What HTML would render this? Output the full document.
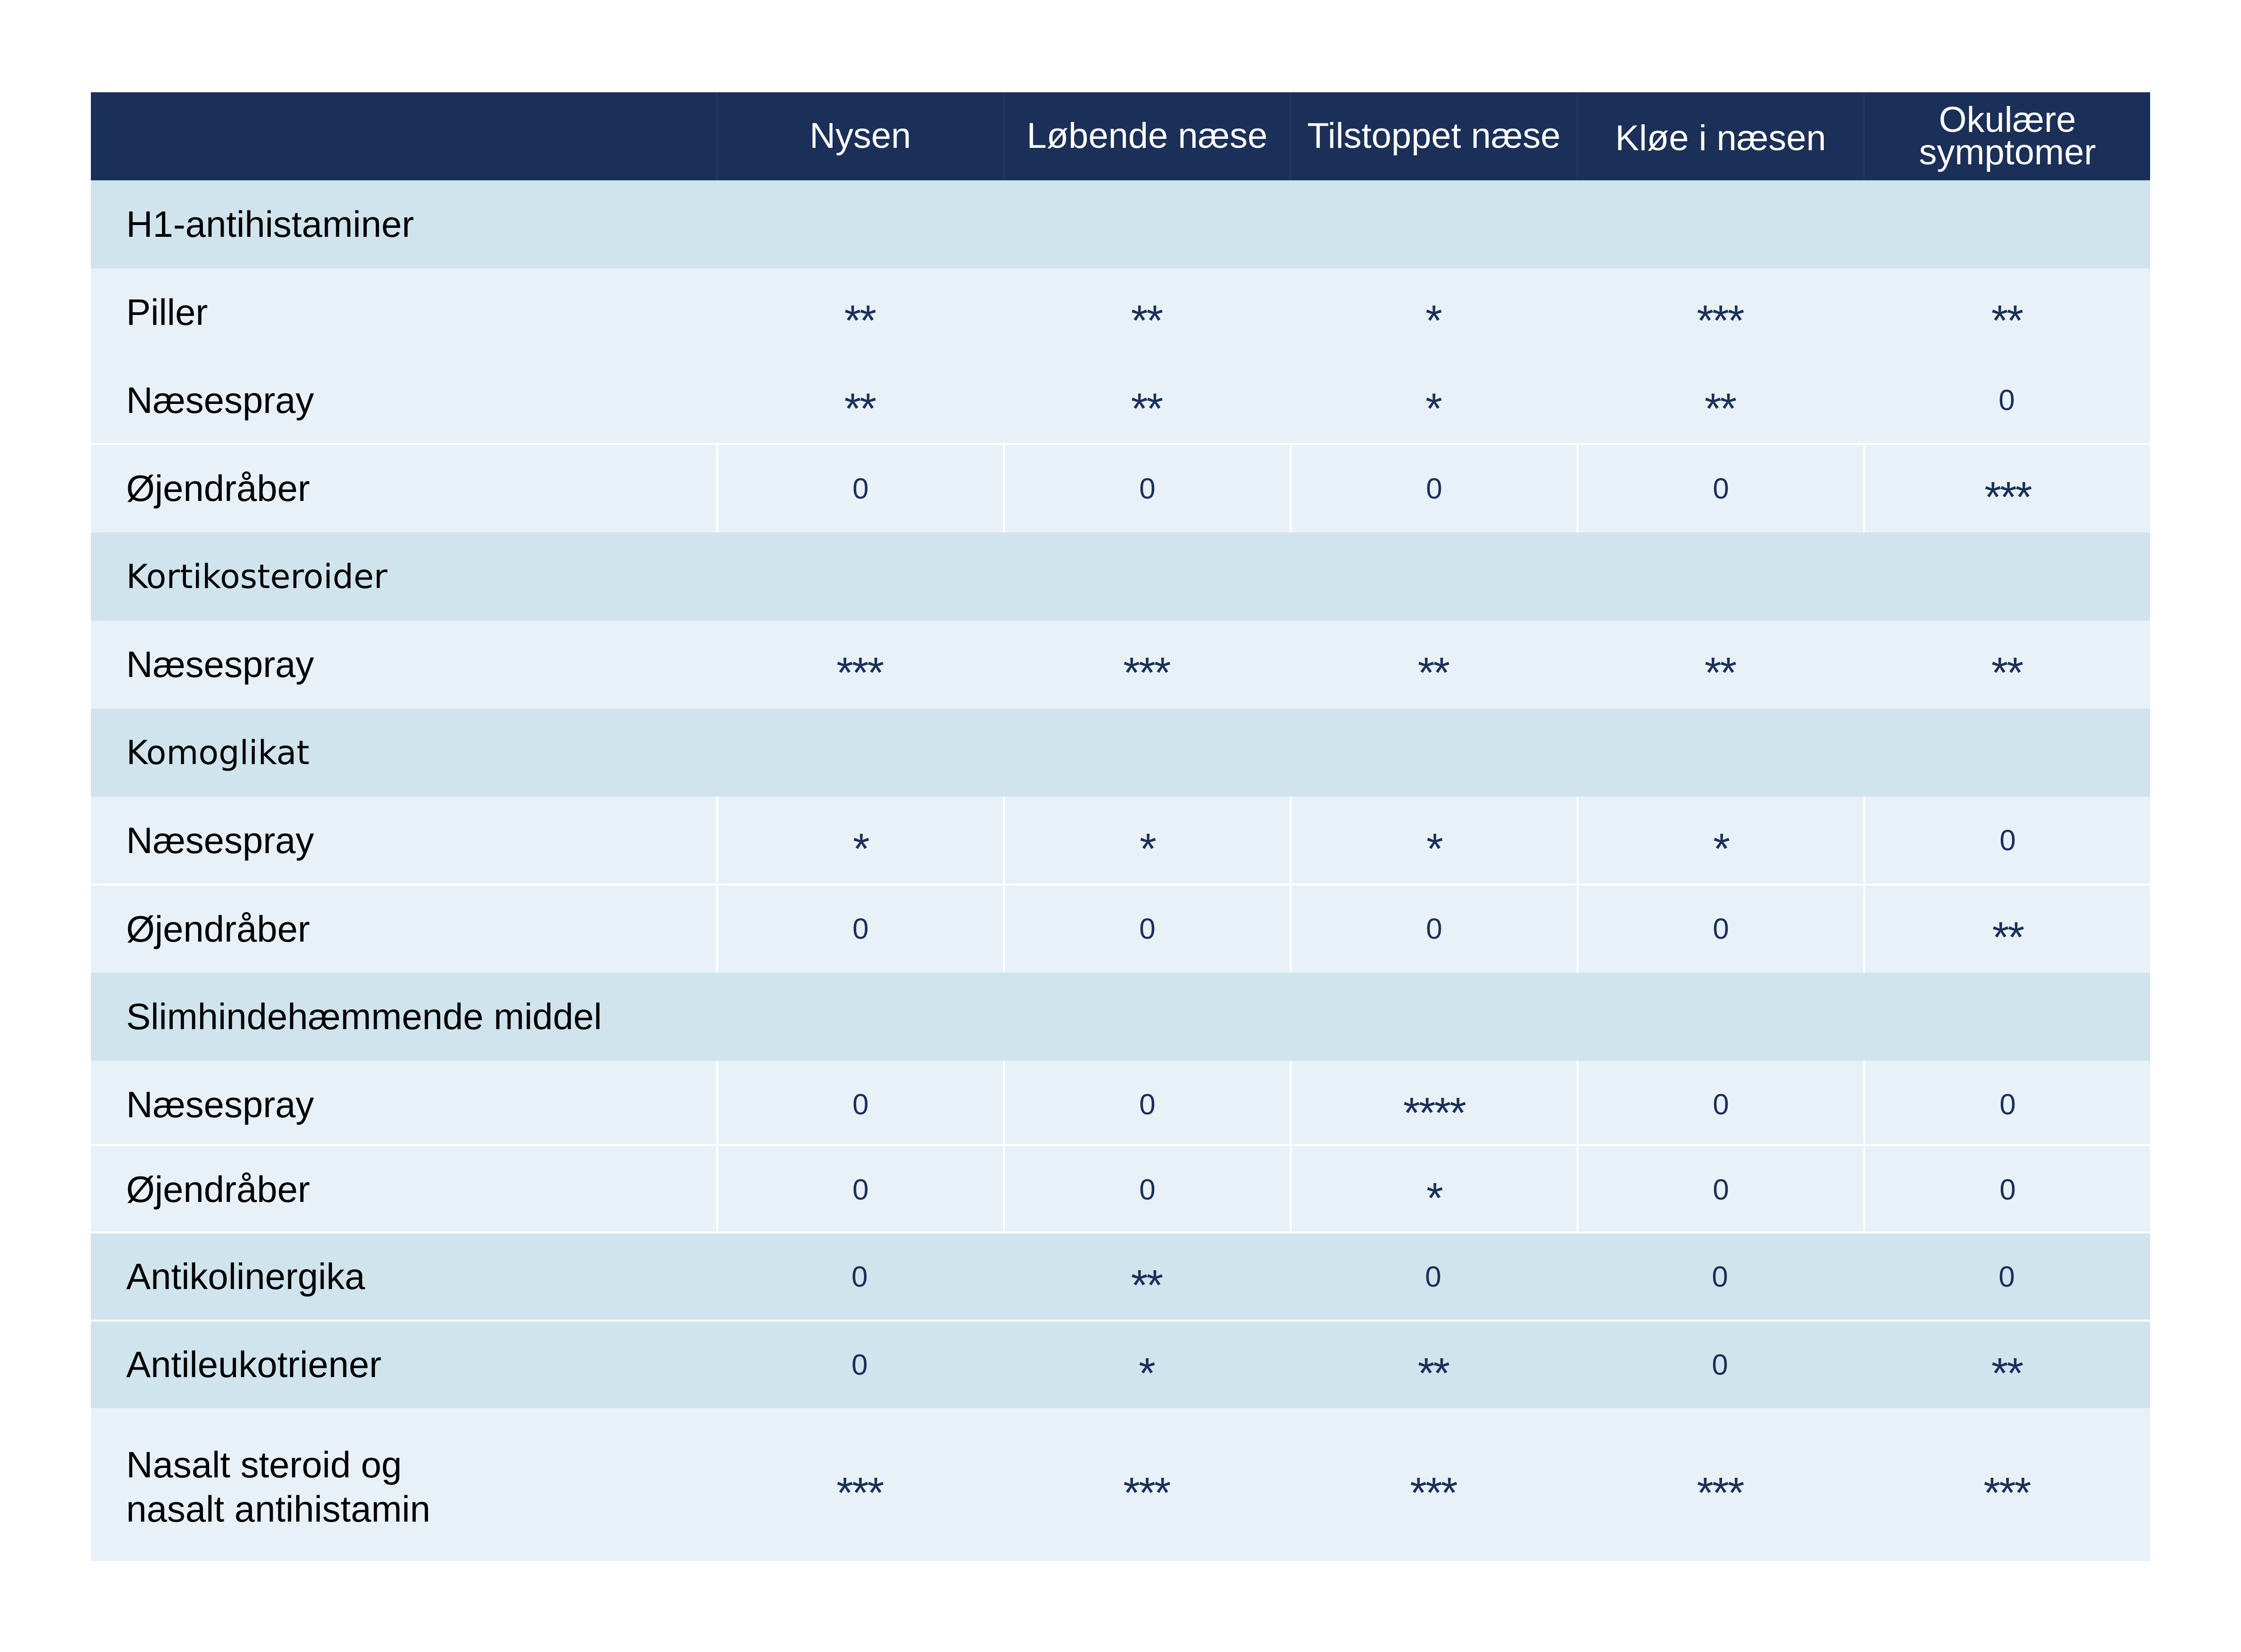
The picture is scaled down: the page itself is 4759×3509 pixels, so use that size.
<!DOCTYPE html>
<html><head><meta charset="utf-8"><style>
html,body{margin:0;padding:0;background:#fff;}
body{width:4759px;height:3509px;position:relative;overflow:hidden;font-family:"Liberation Sans",sans-serif;}
.r{position:absolute;left:193px;width:4373px;}
.c{position:absolute;top:0;bottom:0;display:flex;align-items:center;justify-content:center;}
.lab{position:absolute;left:75px;top:0;bottom:0;display:flex;align-items:center;font-size:78px;color:#000;line-height:1.2;}
.hd{background:#1b3058;color:#fff;font-size:76px;line-height:0.9;text-align:center;}
.g{background:#d0e4ed;}
.d{background:#e8f0f8;}
.v{color:#1b3058;font-size:62px;}
.s{display:inline-block;font-size:92px;transform:translateY(0.2em);letter-spacing:-3px;}
.tl{border-top:4px solid #fff;box-sizing:border-box;}
.vl{border-left:4px solid #fff;box-sizing:border-box;}
.hv{border-left:3px solid #22375f;box-sizing:border-box;}
.dj{font-family:"DejaVu Sans",sans-serif;font-size:70px;}
</style></head><body>

<div class="r hd" style="top:196px;height:187px;">
  <div class="c hv" style="left:1328px;width:609px;">Nysen</div>
  <div class="c hv" style="left:1937px;width:609px;">Løbende næse</div>
  <div class="c hv" style="left:2546px;width:609px;">Tilstoppet næse</div>
  <div class="c hv" style="left:3155px;width:609px;padding-top:10px;">Kløe i næsen</div>
  <div class="c hv" style="left:3764px;width:609px;">Okulære<br>symptomer</div>
</div>

<div class="r g" style="top:383px;height:187px;"><div class="lab">H1-antihistaminer</div></div>

<div class="r d" style="top:570px;height:187px;"><div class="lab">Piller</div>
 <div class="c v" style="left:1328px;width:609px;"><span class="s">**</span></div>
 <div class="c v" style="left:1937px;width:609px;"><span class="s">**</span></div>
 <div class="c v" style="left:2546px;width:609px;"><span class="s">*</span></div>
 <div class="c v" style="left:3155px;width:609px;"><span class="s">***</span></div>
 <div class="c v" style="left:3764px;width:609px;"><span class="s">**</span></div>
</div>

<div class="r d" style="top:757px;height:187px;"><div class="lab">Næsespray</div>
 <div class="c v" style="left:1328px;width:609px;"><span class="s">**</span></div>
 <div class="c v" style="left:1937px;width:609px;"><span class="s">**</span></div>
 <div class="c v" style="left:2546px;width:609px;"><span class="s">*</span></div>
 <div class="c v" style="left:3155px;width:609px;"><span class="s">**</span></div>
 <div class="c v" style="left:3764px;width:609px;">0</div>
</div>

<div class="r d tl" style="top:941px;height:190px;"><div class="lab">Øjendråber</div>
 <div class="c v vl" style="left:1328px;width:609px;">0</div>
 <div class="c v vl" style="left:1937px;width:609px;">0</div>
 <div class="c v vl" style="left:2546px;width:609px;">0</div>
 <div class="c v vl" style="left:3155px;width:609px;">0</div>
 <div class="c v vl" style="left:3764px;width:609px;"><span class="s">***</span></div>
</div>

<div class="r g" style="top:1131px;height:187px;"><div class="lab dj">Kortikosteroider</div></div>

<div class="r d" style="top:1318px;height:187px;"><div class="lab">Næsespray</div>
 <div class="c v" style="left:1328px;width:609px;"><span class="s">***</span></div>
 <div class="c v" style="left:1937px;width:609px;"><span class="s">***</span></div>
 <div class="c v" style="left:2546px;width:609px;"><span class="s">**</span></div>
 <div class="c v" style="left:3155px;width:609px;"><span class="s">**</span></div>
 <div class="c v" style="left:3764px;width:609px;"><span class="s">**</span></div>
</div>

<div class="r g" style="top:1505px;height:187px;"><div class="lab dj">Komoglikat</div></div>

<div class="r d" style="top:1692px;height:187px;"><div class="lab">Næsespray</div>
 <div class="c v vl" style="left:1328px;width:609px;"><span class="s">*</span></div>
 <div class="c v vl" style="left:1937px;width:609px;"><span class="s">*</span></div>
 <div class="c v vl" style="left:2546px;width:609px;"><span class="s">*</span></div>
 <div class="c v vl" style="left:3155px;width:609px;"><span class="s">*</span></div>
 <div class="c v vl" style="left:3764px;width:609px;">0</div>
</div>

<div class="r d tl" style="top:1877px;height:189px;"><div class="lab">Øjendråber</div>
 <div class="c v vl" style="left:1328px;width:609px;">0</div>
 <div class="c v vl" style="left:1937px;width:609px;">0</div>
 <div class="c v vl" style="left:2546px;width:609px;">0</div>
 <div class="c v vl" style="left:3155px;width:609px;">0</div>
 <div class="c v vl" style="left:3764px;width:609px;"><span class="s">**</span></div>
</div>

<div class="r g" style="top:2066px;height:187px;"><div class="lab">Slimhindehæmmende middel</div></div>

<div class="r d" style="top:2253px;height:187px;"><div class="lab">Næsespray</div>
 <div class="c v vl" style="left:1328px;width:609px;">0</div>
 <div class="c v vl" style="left:1937px;width:609px;">0</div>
 <div class="c v vl" style="left:2546px;width:609px;"><span class="s">****</span></div>
 <div class="c v vl" style="left:3155px;width:609px;">0</div>
 <div class="c v vl" style="left:3764px;width:609px;">0</div>
</div>

<div class="r d tl" style="top:2430px;height:190px;"><div class="lab">Øjendråber</div>
 <div class="c v vl" style="left:1328px;width:609px;">0</div>
 <div class="c v vl" style="left:1937px;width:609px;">0</div>
 <div class="c v vl" style="left:2546px;width:609px;"><span class="s">*</span></div>
 <div class="c v vl" style="left:3155px;width:609px;">0</div>
 <div class="c v vl" style="left:3764px;width:609px;">0</div>
</div>

<div class="r g tl" style="top:2616px;height:188px;"><div class="lab">Antikolinergika</div>
 <div class="c v" style="left:1328px;width:609px;">0</div>
 <div class="c v" style="left:1937px;width:609px;"><span class="s">**</span></div>
 <div class="c v" style="left:2546px;width:609px;">0</div>
 <div class="c v" style="left:3155px;width:609px;">0</div>
 <div class="c v" style="left:3764px;width:609px;">0</div>
</div>

<div class="r g tl" style="top:2803px;height:188px;"><div class="lab">Antileukotriener</div>
 <div class="c v" style="left:1328px;width:609px;">0</div>
 <div class="c v" style="left:1937px;width:609px;"><span class="s">*</span></div>
 <div class="c v" style="left:2546px;width:609px;"><span class="s">**</span></div>
 <div class="c v" style="left:3155px;width:609px;">0</div>
 <div class="c v" style="left:3764px;width:609px;"><span class="s">**</span></div>
</div>

<div class="r d" style="top:2991px;height:325px;"><div class="lab" style="padding-top:10px;">Nasalt steroid og<br>nasalt antihistamin</div>
 <div class="c v" style="left:1328px;width:609px;"><span class="s">***</span></div>
 <div class="c v" style="left:1937px;width:609px;"><span class="s">***</span></div>
 <div class="c v" style="left:2546px;width:609px;"><span class="s">***</span></div>
 <div class="c v" style="left:3155px;width:609px;"><span class="s">***</span></div>
 <div class="c v" style="left:3764px;width:609px;"><span class="s">***</span></div>
</div>

</body></html>
